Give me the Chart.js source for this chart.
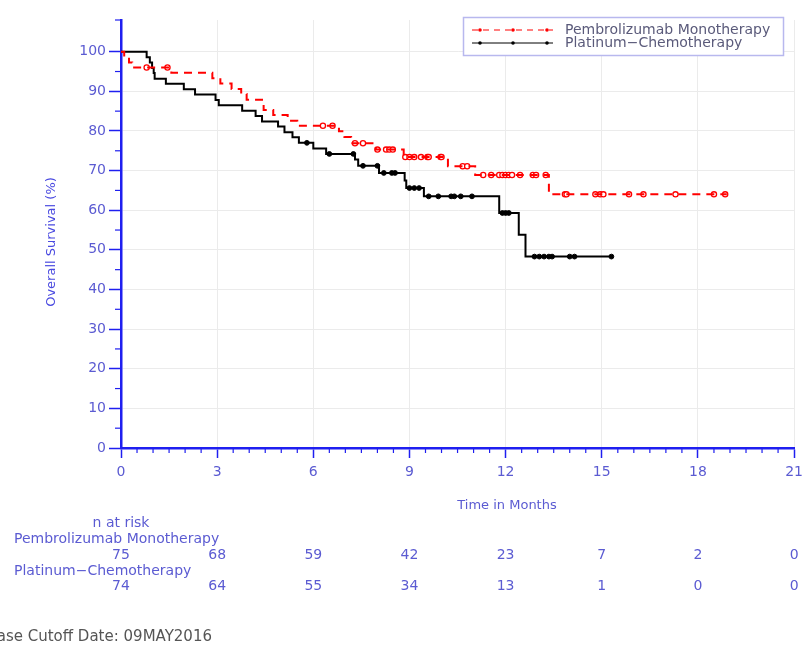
<!DOCTYPE html>
<html>
<head>
<meta charset="utf-8">
<script src="https://cdn.jsdelivr.net/npm/chart.js@4.4.1/dist/chart.umd.min.js"></script>
<style>
  html, body { margin: 0; padding: 0; background: #fff; }
  #wrap { width: 809px; height: 648px; position: relative; }
</style>
</head>
<body>
<div id="wrap"><canvas id="kmChart"></canvas></div>
<script>
// series names
const seriesNames = ['Pembrolizumab Monotherapy', 'Platinum\u2212Chemotherapy'];

// Kaplan-Meier steps (months, % surviving after the step)
const pembroTimes = [0, 0.10, 0.25, 0.35, 1.57, 2.85, 3.10, 3.45, 3.75, 3.92, 4.40, 4.45, 4.75, 5.20, 5.50, 6.80, 6.97, 7.18, 7.95, 8.82, 10.20, 11.05, 13.35, 18.90];
const pembroSurv  = [100, 98.7, 97.3, 96.0, 94.7, 93.3, 92.0, 90.6, 89.3, 87.9, 86.6, 85.3, 84.0, 82.6, 81.3, 79.9, 78.5, 76.9, 75.3, 73.4, 71.1, 68.9, 64.0, 64.0];
const pembroCensored = [0.8, 1.45, 6.3, 6.6, 7.3, 7.55, 8.0, 8.27, 8.37, 8.48, 8.87, 9.0, 9.15, 9.36, 9.56, 9.6, 9.97, 10.0, 10.66, 10.8,
  11.3, 11.55, 11.8, 11.9, 12.0, 12.1, 12.2, 12.45, 12.85, 12.95, 13.25, 13.85, 13.9, 14.8, 14.95, 15.05, 15.85, 16.3, 17.3, 18.5, 18.85];

const chemoTimes = [0, 0.80, 0.90, 0.97, 1.02, 1.05, 1.40, 1.96, 2.31, 2.95, 3.05, 3.78, 4.20, 4.40, 4.90, 5.10, 5.35, 5.55, 6.00, 6.40, 7.30, 7.40, 8.05, 8.85, 8.90, 9.45, 11.80, 12.41, 12.62, 15.30];
const chemoSurv  = [100, 98.6, 97.3, 95.9, 94.6, 93.2, 91.9, 90.5, 89.2, 87.8, 86.5, 85.1, 83.8, 82.4, 81.1, 79.7, 78.4, 77.0, 75.6, 74.2, 72.8, 71.2, 69.4, 67.5, 65.6, 63.5, 59.3, 53.8, 48.3, 48.3];
const chemoCensored = [5.8, 6.5, 7.25, 7.55, 8.0, 8.2, 8.45, 8.55, 9.0, 9.15, 9.3, 9.6, 9.9, 10.3, 10.4, 10.6, 10.95, 11.9, 12.0, 12.1,
  12.9, 13.05, 13.2, 13.35, 13.45, 14.0, 14.15, 15.3];

// number at risk table
const riskMonths = [0, 3, 6, 9, 12, 15, 18, 21];
const pembroRisk = [75, 68, 59, 42, 23, 7, 2, 0];
const chemoRisk  = [74, 64, 55, 34, 13, 1, 0, 0];

const axisBlue = '#1f1ff0';
const labelBlue = '#5b5bd2';
const fontFamily = '"DejaVu Sans", sans-serif';

function toPoints(times, surv) {
  return times.map((t, i) => ({ x: t, y: surv[i] }));
}

// survival value of the step curve at time t (used to place censor marks)
function survAt(times, surv, t) {
  let s = surv[0];
  for (let i = 0; i < times.length; i++) {
    if (times[i] <= t) s = surv[i];
  }
  return s;
}

function censorPoints(censored, times, surv) {
  return censored.map(t => ({ x: t, y: survAt(times, surv, t) }));
}

const kmDecor = {
  id: 'kmDecor',
  afterDraw(chart) {
    const ctx = chart.ctx;
    const xs = chart.scales.x;
    const ys = chart.scales.y;
    const area = chart.chartArea;

    ctx.save();
    // minor ticks
    ctx.strokeStyle = axisBlue;
    ctx.lineWidth = 1.2;
    xs.ticks.forEach(tk => {
      if (tk.value % 3 !== 0) {
        const px = xs.getPixelForValue(tk.value);
        ctx.beginPath();
        ctx.moveTo(px, area.bottom);
        ctx.lineTo(px, area.bottom + 5);
        ctx.stroke();
      }
    });
    ys.ticks.forEach(tk => {
      if (tk.value % 10 !== 0) {
        const py = ys.getPixelForValue(tk.value);
        ctx.beginPath();
        ctx.moveTo(area.left - 6, py);
        ctx.lineTo(area.left, py);
        ctx.stroke();
      }
    });

    // axis titles
    ctx.fillStyle = '#4a4ae0';
    ctx.font = '13px ' + fontFamily;
    ctx.textAlign = 'center';
    ctx.textBaseline = 'middle';
    ctx.save();
    ctx.translate(52, (area.top + area.bottom) / 2 + 8);
    ctx.rotate(-Math.PI / 2);
    ctx.fillText('Overall Survival (%)', 0, 0);
    ctx.restore();
    ctx.fillStyle = labelBlue;
    ctx.fillText('Time in Months', 507, 506);

    // number at risk
    ctx.font = '14px ' + fontFamily;
    ctx.fillText('n at risk', 121, 523);
    ctx.textAlign = 'left';
    ctx.fillText(seriesNames[0], 14, 539);
    ctx.fillText(seriesNames[1], 14, 571);
    ctx.textAlign = 'center';
    riskMonths.forEach((m, i) => {
      const px = xs.getPixelForValue(m);
      ctx.fillText(String(pembroRisk[i]), px, 555);
      ctx.fillText(String(chemoRisk[i]), px, 586);
    });

    // cutoff note (left part runs off the page, as in the original)
    ctx.fillStyle = '#555555';
    ctx.font = '15px ' + fontFamily;
    ctx.textAlign = 'right';
    ctx.fillText('Database Cutoff Date: 09MAY2016', 212, 637);

    // legend
    ctx.fillStyle = '#ffffff';
    ctx.fillRect(463.5, 17.5, 320, 38);
    ctx.strokeStyle = '#b8b8ee';
    ctx.lineWidth = 1.5;
    ctx.strokeRect(463.5, 17.5, 320, 38);
    const rows = [
      { ds: chart.data.datasets[0], y: 30 },
      { ds: chart.data.datasets[1], y: 43 }
    ];
    rows.forEach(r => {
      ctx.strokeStyle = r.ds.borderColor;
      ctx.lineWidth = 1;
      ctx.setLineDash(r.ds.borderDash ? [6, 5] : []);
      ctx.beginPath();
      ctx.moveTo(472, r.y);
      ctx.lineTo(553, r.y);
      ctx.stroke();
      ctx.setLineDash([]);
      ctx.fillStyle = r.ds.borderColor;
      [480, 513, 547].forEach(mx => {
        ctx.beginPath();
        ctx.arc(mx, r.y, 1.8, 0, Math.PI * 2);
        ctx.fill();
      });
      ctx.fillStyle = '#5a5a7a';
      ctx.font = '14px ' + fontFamily;
      ctx.textAlign = 'left';
      ctx.fillText(r.ds.label, 565, r.y);
    });
    ctx.restore();
  }
};

const chart = new Chart(document.getElementById('kmChart'), {
  type: 'line',
  data: {
    datasets: [
      {
        label: seriesNames[0],
        data: toPoints(pembroTimes, pembroSurv),
        borderColor: '#ff0000',
        borderWidth: 2,
        borderDash: [8, 6],
        stepped: 'before',
        pointRadius: 0,
        fill: false
      },
      {
        label: seriesNames[1],
        data: toPoints(chemoTimes, chemoSurv),
        borderColor: '#000000',
        borderWidth: 2,
        stepped: 'before',
        pointRadius: 0,
        fill: false
      },
      {
        label: seriesNames[0] + ' censored',
        data: censorPoints(pembroCensored, pembroTimes, pembroSurv),
        showLine: false,
        pointStyle: 'circle',
        pointRadius: 2.6,
        pointBorderWidth: 1.3,
        pointBorderColor: '#ff0000',
        pointBackgroundColor: '#ffffff'
      },
      {
        label: seriesNames[1] + ' censored',
        data: censorPoints(chemoCensored, chemoTimes, chemoSurv),
        showLine: false,
        pointStyle: 'circle',
        pointRadius: 2.4,
        pointBorderWidth: 1,
        pointBorderColor: '#000000',
        pointBackgroundColor: '#000000'
      }
    ]
  },
  options: {
    responsive: true,
    maintainAspectRatio: false,
    animation: false,
    layout: { padding: { left: 0, right: 7, top: 20, bottom: 160 } },
    plugins: {
      legend: { display: false },
      tooltip: { enabled: false }
    },
    scales: {
      x: {
        type: 'linear',
        min: 0,
        max: 21,
        afterFit: s => { s.height = 40; },
        border: { color: axisBlue, width: 2.5 },
        grid: {
          color: c => (c.tick && c.tick.value % 3 === 0 && c.tick.value !== 0) ? '#ebebeb' : 'rgba(0,0,0,0)',
          tickColor: c => (c.tick && c.tick.value % 3 === 0) ? axisBlue : 'rgba(0,0,0,0)',
          tickLength: 10,
          tickWidth: 1.5
        },
        ticks: {
          stepSize: 0.5,
          autoSkip: false,
          maxRotation: 0,
          padding: 6,
          color: labelBlue,
          font: { family: fontFamily, size: 14 },
          callback: v => (v % 3 === 0 ? String(v) : '')
        }
      },
      y: {
        min: 0,
        max: 108,
        afterFit: s => { s.width = 121; },
        border: { color: axisBlue, width: 2.5 },
        grid: {
          color: c => (c.tick && c.tick.value % 10 === 0 && c.tick.value !== 0) ? '#ebebeb' : 'rgba(0,0,0,0)',
          tickColor: c => (c.tick && c.tick.value % 10 === 0) ? axisBlue : 'rgba(0,0,0,0)',
          tickLength: 12,
          tickWidth: 1.5
        },
        ticks: {
          stepSize: 5,
          autoSkip: false,
          padding: 3,
          color: labelBlue,
          font: { family: fontFamily, size: 14 },
          callback: v => (v % 10 === 0 ? String(v) : '')
        }
      }
    }
  },
  plugins: [kmDecor]
});
</script>
</body>
</html>
